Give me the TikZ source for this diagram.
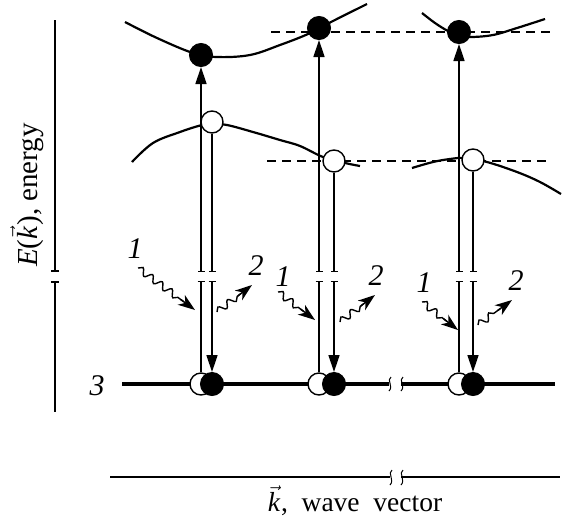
\documentclass[tikz,border=0pt]{standalone}
\usepackage{fontspec}
\setmainfont{Liberation Serif}
\usetikzlibrary{arrows.meta,decorations.pathmorphing,backgrounds,calc}
\begin{document}
\begin{tikzpicture}[x=1pt,y=-1pt,
  fnt/.style={font=\fontsize{29}{33}\selectfont},
  kfnt/.style={font=\fontsize{27.5}{32}\selectfont},
  num/.style={font=\fontsize{30}{34}\selectfont\itshape, inner sep=0pt},
  band/.style={line width=2.2pt},
  trans/.style={line width=1.4pt},
  axisl/.style={line width=2pt},
  groundl/.style={line width=3.5pt},
  dashl/.style={line width=1.4pt, dash pattern=on 9pt off 6pt},
  brk/.style={line width=1pt},
  filled/.style={circle, fill=black, draw=black, minimum size=23pt, inner sep=0pt, line width=1pt},
  hole/.style={circle, fill=white, draw=black, minimum size=22pt, inner sep=0pt, line width=1.4pt},
  wavy/.style={line width=1.4pt, decorate, decoration={snake, amplitude=3.4pt, segment length=12pt, post length=4pt}},
  wtip/.style={line width=1.4pt, -{Stealth[length=17pt,width=12pt,inset=5pt]}},
  uptop/.style={trans, {Bar[width=7pt]}-{Triangle[length=17pt,width=11pt]}},
  barend/.style={trans, -{Bar[width=7pt]}},
  downbot/.style={trans, {Bar[width=7pt]}-{Triangle[length=17pt,width=11pt]}}
]
\useasboundingbox (0,0) rectangle (562,520);
\coordinate (brkT) at (0,272);
\coordinate (brkB) at (0,281);

% energy axis
\coordinate (ea1) at (55,20);
\coordinate (ea2) at (55,412);
\draw[axisl, -{Bar[width=8pt]}] (ea1) -- (ea1 |- brkT);
\draw[axisl, {Bar[width=8pt]}-] (ea1 |- brkB) -- (ea2);
\node[fnt, rotate=90] (elabel) at (27,195) {\textit{E}($\vec{\mbox{\itshape k}}$\kern1pt),\ energy};

% dots
\node[filled] (c1) at (201,55) {};
\node[filled] (c2) at (319,28) {};
\node[filled] (c3) at (459,32) {};
\node[hole] (v1) at (212,122) {};
\node[hole] (v2) at (334,161) {};
\node[hole] (v3) at (473,160) {};
\node[hole] (g1o) at (201,384) {};
\node[filled] (g1f) at (212,384) {};
\node[hole] (g2o) at (319,384) {};
\node[filled] (g2f) at (334,384) {};
\node[hole] (g3o) at (459,384) {};
\node[filled] (g3f) at (473,384) {};

\node[num] (n3) at (97,386) {3};

\begin{scope}[on background layer]
  % bands
  \draw[band] plot[smooth, tension=0.6] coordinates {(125,22) (157,38) (193,53) (217,57) (250,55) (280,45) (308,34) (331,22) (367,4)};
  \draw[band] plot[smooth, tension=0.6] coordinates {(132,162) (153,143) (180,132) (202,125) (212,124) (227,125) (253,132) (280,140) (300,146) (323,157) (345,163) (360,166)};
  \draw[band] plot[smooth, tension=0.6] coordinates {(422,13) (435,23) (448,31) (459,35) (470,37) (493,35) (517,28) (545,19)};
  \draw[band] plot[smooth, tension=0.6] coordinates {(412,168) (433,162) (450,159) (465,158) (487,162) (517,172) (540,182) (561,194)};
  % dashed levels
  \coordinate (d1a) at (271,32); \coordinate (d1b) at (555,32);
  \coordinate (d2a) at (267,161); \coordinate (d2b) at (548,161);
  \draw[dashl] (d1a) -- (d1b);
  \draw[dashl] (d2a) -- (d2b);
  % ground level
  \coordinate (gl1) at (122,384); \coordinate (gl2) at (389,384);
  \coordinate (gl3) at (401,384); \coordinate (gl4) at (555,384);
  \draw[groundl] (gl1) -- (gl2);
  \draw[groundl] (gl3) -- (gl4);
\end{scope}
\draw[brk] (391,377) .. controls (386,380) and (394,386) .. (389,391);
\draw[brk] (403,377) .. controls (398,380) and (406,386) .. (401,391);

% transitions: up
\foreach \g/\c in {g1o/c1, g2o/c2, g3o/c3}{
  \draw[barend] (\g.north) -- (\g |- brkB);
  \draw[uptop] (\g |- brkT) -- (\c.south);
}
% transitions: down
\foreach \v/\g in {v1/g1f, v2/g2f, v3/g3f}{
  \draw[barend] (\v.south) -- (\v |- brkT);
  \draw[downbot] (\v |- brkB) -- (\g.north);
}

% photons
\node[num] (p1a) at (135,249) {1};
\node[num] (p2a) at (256,266) {2};
\node[num] (p1b) at (283,277) {1};
\node[num] (p2b) at (376,276) {2};
\node[num] (p1c) at (424,283) {1};
\node[num] (p2c) at (516,281) {2};
\coordinate (w1as) at (138,268); \coordinate (w1ae) at (195,310);
\coordinate (w2as) at (217,312); \coordinate (w2ae) at (252,285);
\coordinate (w1bs) at (278,292); \coordinate (w1be) at (315,320);
\coordinate (w2bs) at (340,322); \coordinate (w2be) at (375,295);
\coordinate (w1cs) at (422,302); \coordinate (w1ce) at (458,330);
\coordinate (w2cs) at (478,325); \coordinate (w2ce) at (512,300);
\foreach \s/\e in {w1as/w1ae, w2as/w2ae, w1bs/w1be, w2bs/w2be, w1cs/w1ce, w2cs/w2ce}{
  \draw[wavy] (\s) -- ($(\e)!14pt!(\s)$);
  \draw[wtip] ($(\e)!18pt!(\s)$) -- (\e);
}

% wave vector axis
\coordinate (ka1) at (110,477); \coordinate (ka2) at (390,477);
\coordinate (ka3) at (401,477); \coordinate (ka4) at (560,477);
\draw[axisl] (ka1) -- (ka2);
\draw[axisl] (ka3) -- (ka4);
\draw[brk] (392,470) .. controls (387,473) and (395,480) .. (390,485);
\draw[brk] (403,470) .. controls (398,473) and (406,480) .. (401,485);
\node[kfnt] (klabel) at (355,501) {$\vec{\mbox{\itshape k}}$\kern1pt,\ \ wave\ \ vector};
\end{tikzpicture}
\end{document}
